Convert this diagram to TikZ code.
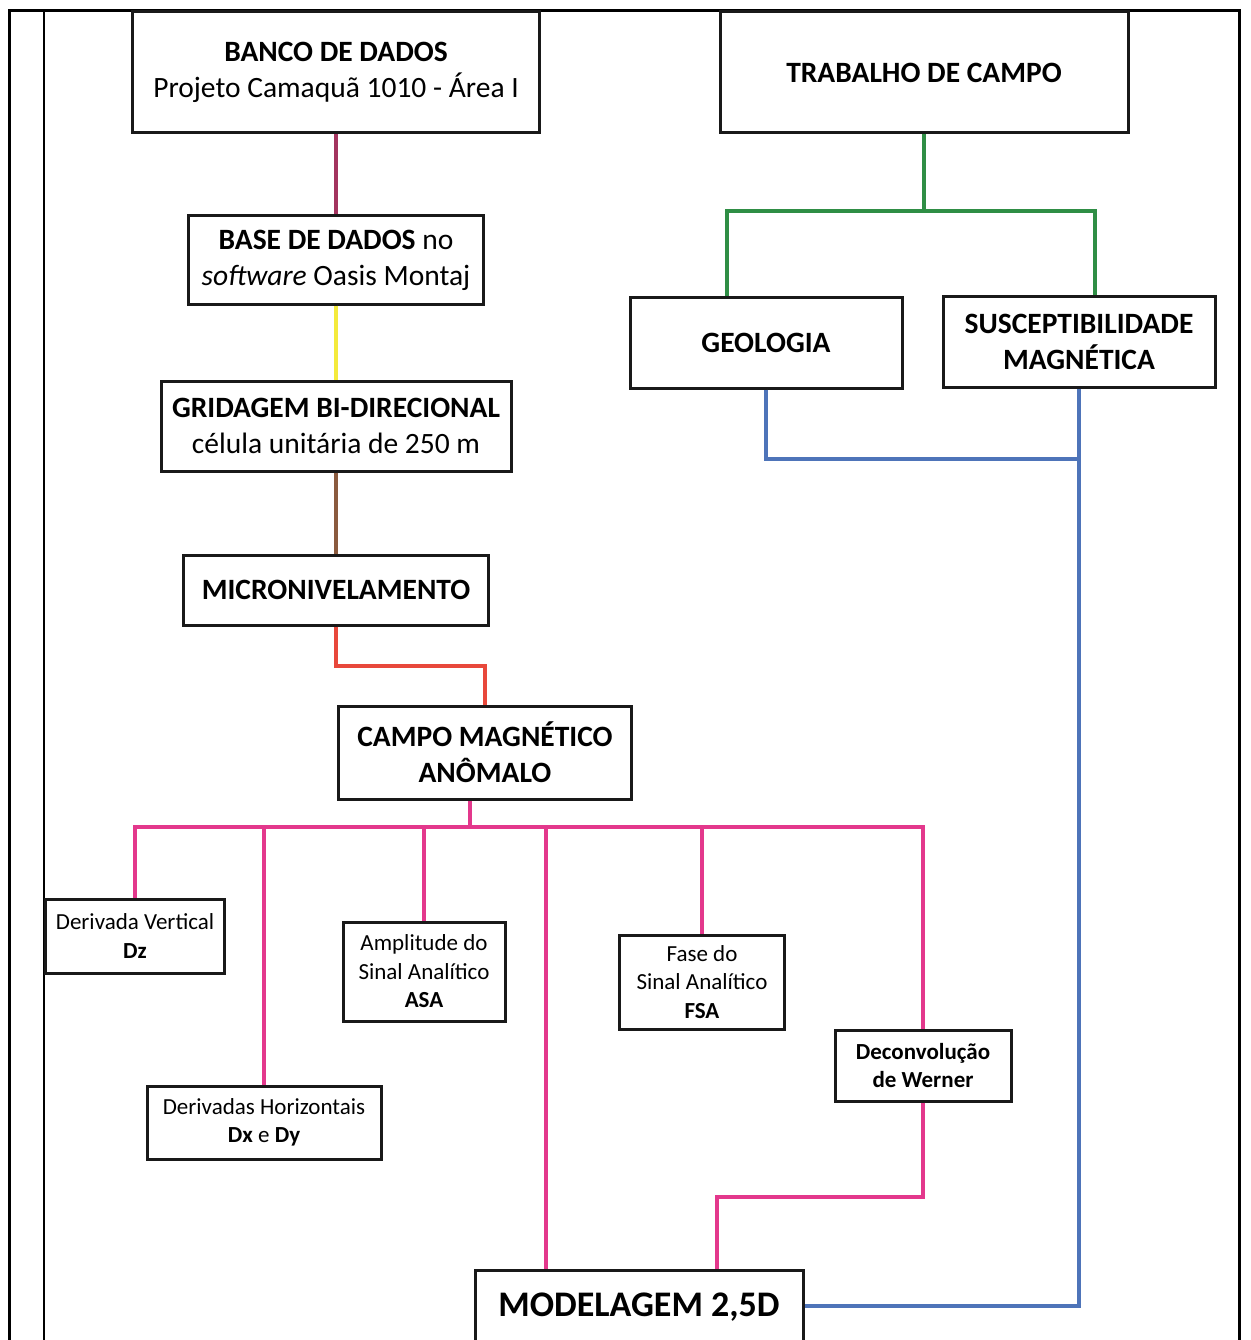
\documentclass[tikz,border=0pt]{standalone}
\usepackage{fontspec}
\setmainfont{Carlito}
\definecolor{lnmaroon}{HTML}{A3345F}
\definecolor{lnyellow}{HTML}{F4EA3C}
\definecolor{lnbrown}{HTML}{8A5A3E}
\definecolor{lnred}{HTML}{E8483B}
\definecolor{lnpink}{HTML}{E3388C}
\definecolor{lngreen}{HTML}{2F8E45}
\definecolor{lnblue}{HTML}{4E74B9}
\begin{document}
\begin{tikzpicture}[x=1pt,y=-1pt,
  box/.style={draw=black!90,line width=3,inner sep=0,align=center,fill=white},
  bigtxt/.style={font=\fontsize{29.5}{36}\selectfont},
  smalltxt/.style={font=\fontsize{23}{28.5}\selectfont},
  link/.style={line width=3.2}]
\useasboundingbox (0,0) rectangle (1250,1340);
\draw[line width=3] (9,1345) -- (9,11) -- (1239,11) -- (1239,1345);
\draw[line width=2] (44,11) -- (44,1345);
\node[box,bigtxt,minimum width=407,minimum height=121] (banco) at (336,72.5) {\textbf{BANCO DE DADOS}\\Projeto Camaquã 1010 - Área I};
\node[box,bigtxt,minimum width=408,minimum height=121] (trabalho) at (924,72.5) {\textbf{TRABALHO DE CAMPO}};
\node[box,bigtxt,minimum width=295,minimum height=88] (base) at (336,260) {\textbf{BASE DE DADOS} no\\\textit{software} Oasis Montaj};
\node[box,bigtxt,minimum width=350,minimum height=90] (grid) at (336,426) {\textbf{GRIDAGEM BI-DIRECIONAL}\\célula unitária de 250 m};
\node[box,bigtxt,minimum width=305,minimum height=70] (micro) at (336,590) {\textbf{MICRONIVELAMENTO}};
\node[box,bigtxt,minimum width=293,minimum height=93] (campo) at (485,752.5) {\textbf{CAMPO MAGNÉTICO}\\\textbf{ANÔMALO}};
\node[box,bigtxt,minimum width=272,minimum height=91] (geo) at (766,342.5) {\textbf{GEOLOGIA}};
\node[box,bigtxt,minimum width=272,minimum height=91] (susc) at (1079,341.5) {\textbf{SUSCEPTIBILIDADE}\\\textbf{MAGNÉTICA}};
\node[box,smalltxt,minimum width=179,minimum height=74] (dz) at (135,936) {Derivada Vertical\\\textbf{Dz}};
\node[box,smalltxt,minimum width=162,minimum height=99] (asa) at (424,971.5) {Amplitude do\\Sinal Analítico\\\textbf{ASA}};
\node[box,smalltxt,minimum width=234,minimum height=73] (dh) at (264,1122.5) {Derivadas Horizontais\\\textbf{Dx} e \textbf{Dy}};
\node[box,smalltxt,minimum width=165,minimum height=94] (fsa) at (702,982) {Fase do\\Sinal Analítico\\\textbf{FSA}};
\node[box,smalltxt,minimum width=176,minimum height=71] (werner) at (923,1065.5) {\textbf{Deconvolução}\\\textbf{de Werner}};
\node[box,font=\fontsize{36}{42}\selectfont,minimum width=328,minimum height=90,text height=23,text depth=20] (model) at (639,1315) {\textbf{MODELAGEM 2,5D}};
\coordinate (redknee) at (485,666);
\coordinate (pinkbar) at (470,827);
\coordinate (mdrop) at (546,827);
\coordinate (wknee) at (717,1197);
\coordinate (gl) at (727,211);
\coordinate (gr) at (1095,211);
\coordinate (bluejoin) at (1079,459);
\coordinate (bluefoot) at (1079,1306);
\draw[link,lnmaroon] (banco.south) -- (base.north);
\draw[link,lnyellow] (base.south) -- (grid.north);
\draw[link,lnbrown] (grid.south) -- (micro.north);
\draw[link,lnred] (micro.south) |- (redknee) -- (campo.north);
\draw[link,lnpink] (campo.south -| pinkbar) -- (pinkbar);
\draw[link,lnpink] (dz.north) -- (dz.north |- pinkbar) -- (werner.north |- pinkbar) -- (werner.north);
\draw[link,lnpink] (dh.north |- pinkbar) -- (dh.north);
\draw[link,lnpink] (asa.north |- pinkbar) -- (asa.north);
\draw[link,lnpink] (fsa.north |- pinkbar) -- (fsa.north);
\draw[link,lnpink] (mdrop) -- (mdrop |- model.north);
\draw[link,lnpink] (werner.south) |- (wknee) -- (wknee |- model.north);
\draw[link,lngreen] (trabalho.south) -- (trabalho.south |- gl);
\draw[link,lngreen] (gl |- geo.north) -- (gl) -- (gr) -- (gr |- susc.north);
\draw[link,lnblue] (geo.south) |- (bluejoin);
\draw[link,lnblue] (susc.south) -- (bluefoot) -- (bluefoot -| model.east);
\end{tikzpicture}
\end{document}
